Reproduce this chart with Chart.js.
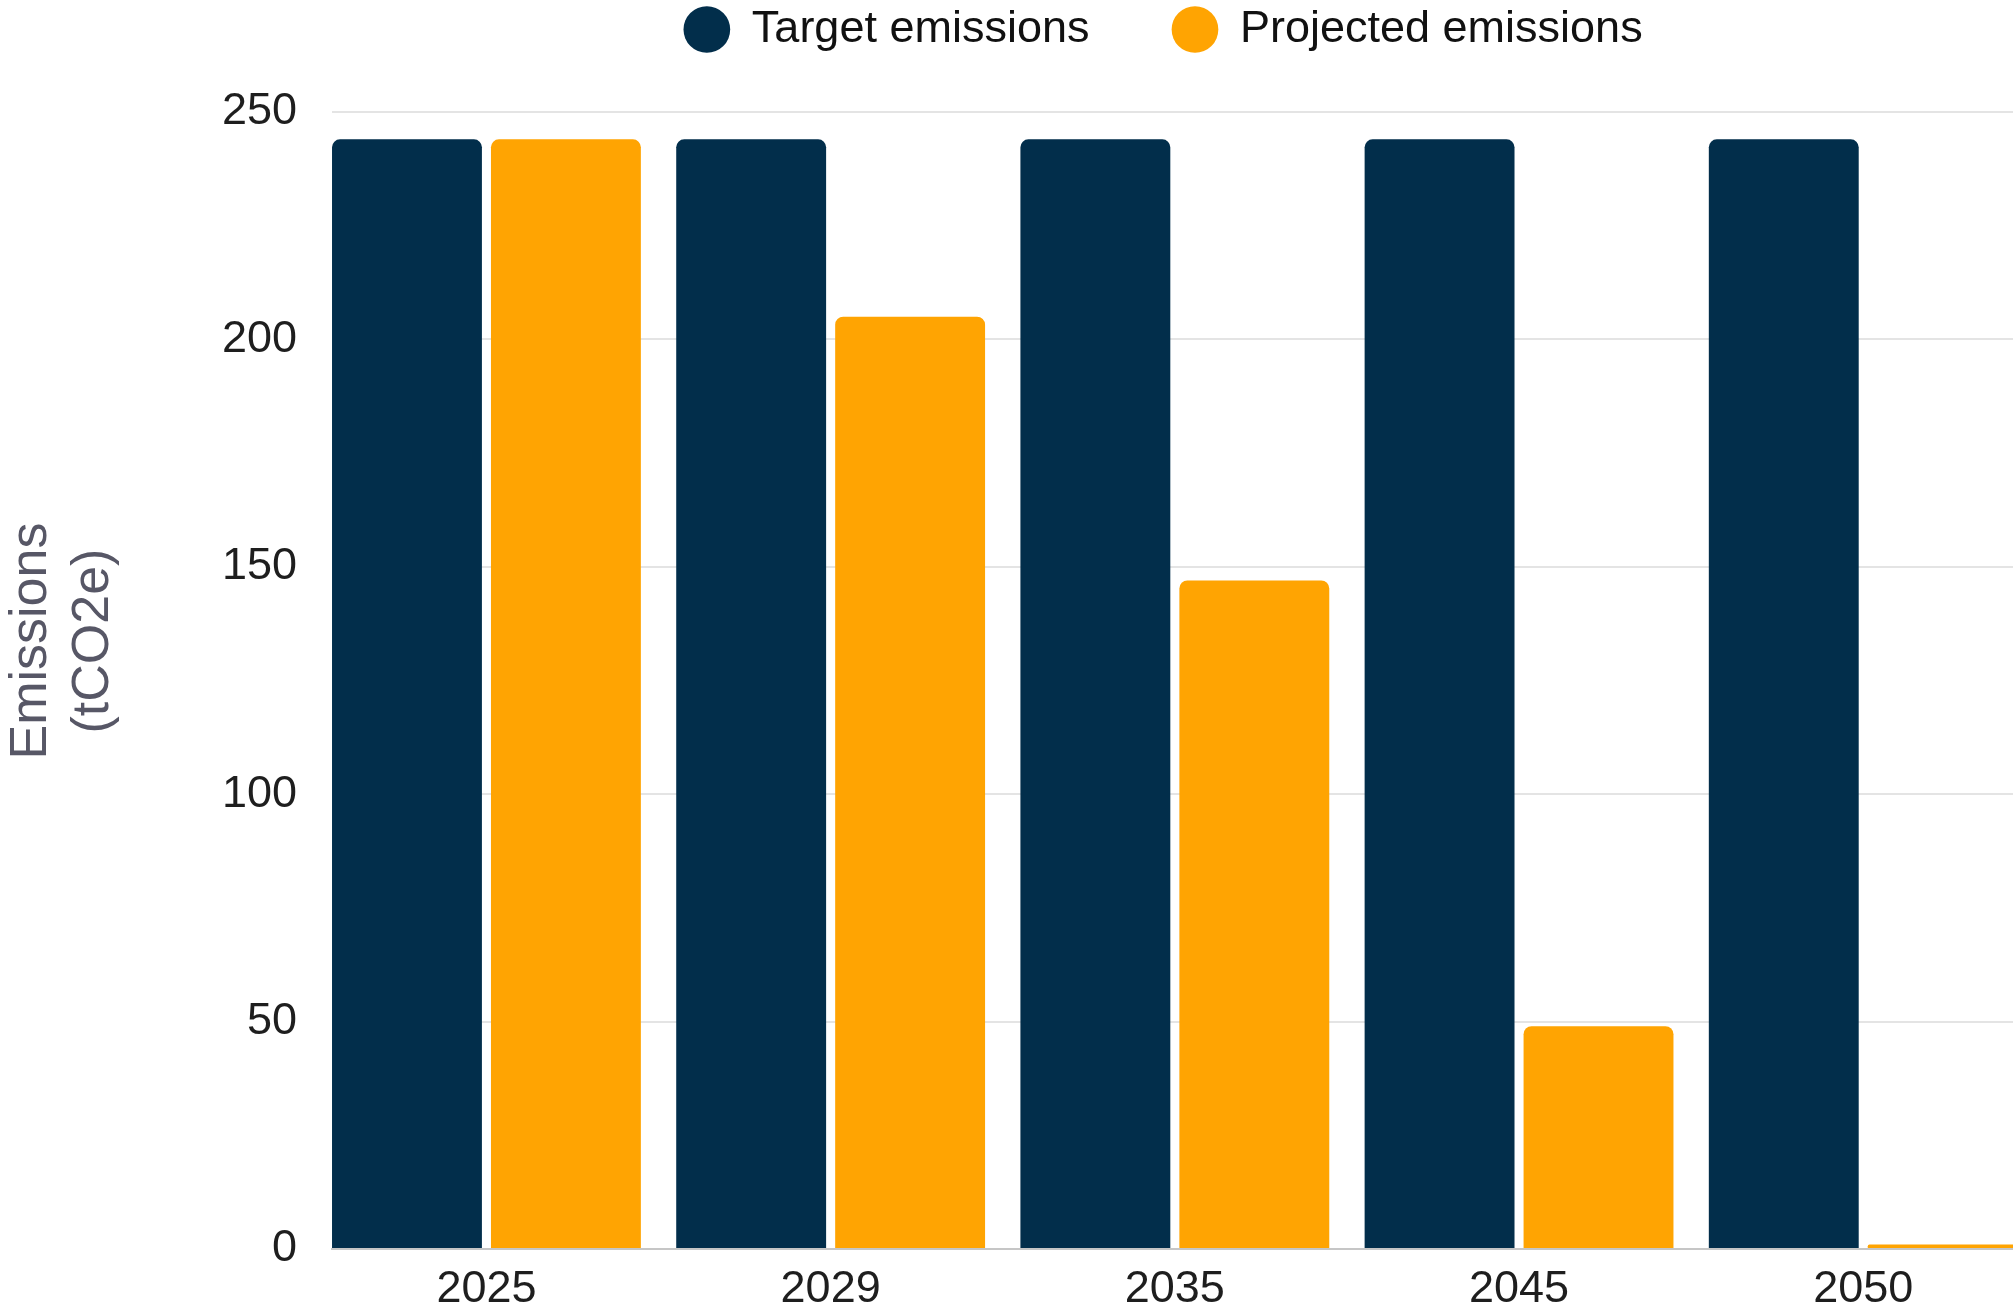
<!DOCTYPE html>
<html>
<head>
<meta charset="utf-8">
<script src="https://cdn.jsdelivr.net/npm/chart.js@4"></script>
<style>
  html, body { margin: 0; padding: 0; background: #fff; overflow: hidden; }
  #wrap { width: 2327px; height: 1331px; }
</style>
</head>
<body>
<div id="wrap"><canvas id="emissions" width="2327" height="1331"></canvas></div>
<script>
var years = ["2025", "2029", "2035", "2045", "2050"];
var targetEmissions = [244, 244, 244, 244, 244];
var projectedEmissions = [244, 205, 147, 49, 1];
var yTicks = [0, 50, 100, 150, 200, 250];

var colors = {
    navy   : "#022e4b",
    orange : "#ffa402",
    grid   : "#e4e4e4",
    base   : "#c6c6c6",
    title  : "#575766",
    tick   : "#1e1e1e"
};

function points(values) {
    return values.map(function(v, i) { return { x: i, y: v }; });
}

var font = { family: "'Liberation Sans', Arial, sans-serif", size: 45 };

var barStyle = {
    borderRadius: 8,
    categoryPercentage: 0.9236,
    barPercentage: 0.943
};

var config = {
    type: 'bar',
    data: {
        datasets: [
            Object.assign({
                label: 'Target emissions',
                data: points(targetEmissions),
                backgroundColor: colors.navy
            }, barStyle),
            Object.assign({
                label: 'Projected emissions',
                data: points(projectedEmissions),
                backgroundColor: colors.orange
            }, barStyle)
        ]
    },
    options: {
        responsive: false,
        animation: false,
        devicePixelRatio: 1,
        layout: { padding: { top: -78 } },
        plugins: {
            tooltip: { enabled: false },
            legend: {
                position: 'top',
                labels: {
                    usePointStyle: true,
                    pointStyle: 'circle',
                    boxWidth: 45,
                    boxHeight: 33,
                    padding: 83,
                    color: '#111',
                    font: font
                }
            }
        },
        scales: {
            x: {
                type: 'linear',
                offset: false,
                min: -0.4487,
                max: 4.5513,
                grid: { display: false, drawTicks: false },
                border: { display: true, color: colors.base, width: 2 },
                afterBuildTicks: function(scale) {
                    scale.ticks = years.map(function(y, i) { return { value: i }; });
                },
                ticks: {
                    autoSkip: false,
                    maxRotation: 0,
                    padding: 14,
                    color: colors.tick,
                    font: font,
                    callback: function(v) { return years[v]; }
                }
            },
            y: {
                min: yTicks[0],
                max: 261,
                grid: { color: colors.grid, lineWidth: 2, drawTicks: false },
                border: { display: false },
                afterBuildTicks: function(scale) {
                    scale.ticks = yTicks.map(function(v) { return { value: v }; });
                },
                ticks: {
                    padding: 35,
                    color: colors.tick,
                    font: font
                },
                title: {
                    display: true,
                    // leading spaces nudge the centred title up a little
                    text: ['  Emissions', '  (tCO2e)'],
                    color: colors.title,
                    font: { family: font.family, size: 52, lineHeight: 1.2 },
                    padding: 0
                },
                afterFit: function(scale) { scale.width = 332; }
            },
            yRight: {
                type: 'linear',
                position: 'right',
                grid: { display: false },
                border: { display: false },
                ticks: { display: false },
                afterFit: function(scale) { scale.width = 274; }
            }
        }
    }
};

window.onload = function() {
    var ctx = document.getElementById("emissions").getContext("2d");
    window.emissionsChart = new Chart(ctx, config);
};
</script>
</body>
</html>
